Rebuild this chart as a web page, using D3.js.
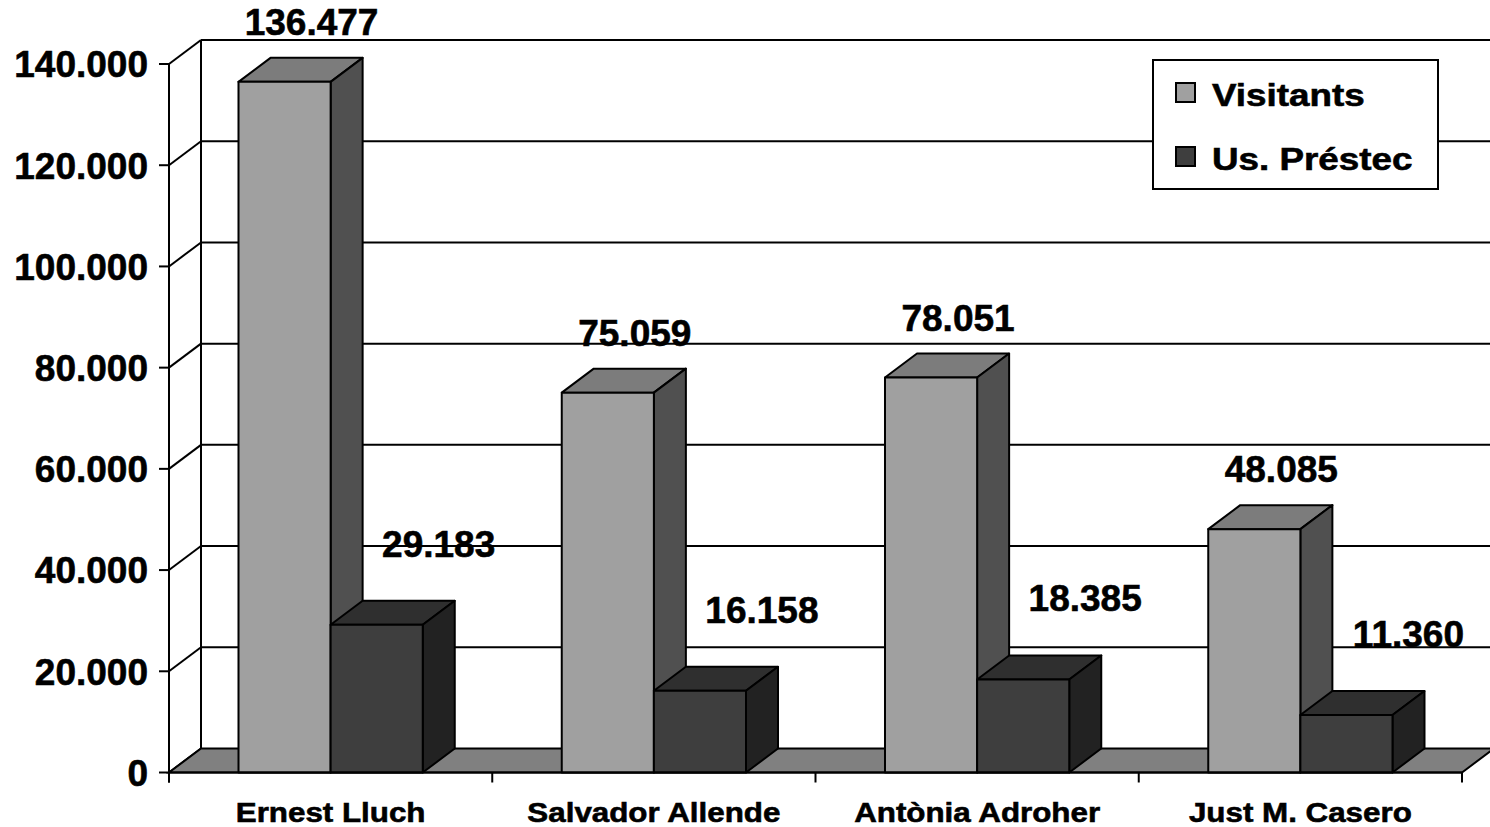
<!DOCTYPE html>
<html><head><meta charset="utf-8">
<script src="https://cdn.jsdelivr.net/npm/d3@7"></script>
<style>
html,body{margin:0;padding:0;background:#fff;}
svg{display:block;}
text{font-family:"Liberation Sans",Arial,sans-serif;font-weight:bold;fill:#000;stroke:#000;stroke-width:0.6px;}
</style></head>
<body>
<svg id="c" width="1490" height="827"></svg>
<script>
const categories = ["Ernest Lluch","Salvador Allende","Antònia Adroher","Just M. Casero"];
const seriesNames = ["Visitants","Us. Préstec"];
const visitants = [136477, 75059, 78051, 48085];
const prestec = [29183, 16158, 18385, 11360];
const yTicks = [0,20000,40000,60000,80000,100000,120000,140000];

const svg = d3.select("#c");
const fmt = d3.formatLocale({decimal:",",thousands:".",grouping:[3],currency:["","€"]}).format(",");
const DX = 32, DY = -24;
const y = d3.scaleLinear().domain([0,140000]).range([772.5,64]);
const x = d3.scaleBand().domain(categories).range([169,1462]).padding(0);
const bw = x.bandwidth();
const xs = d3.scaleBand().domain(seriesNames).range([bw*0.215, bw*0.785]).padding(0);
const faces = {
  "Visitants": {front:"#a0a0a0", top:"#7c7c7c", side:"#505050"},
  "Us. Préstec": {front:"#3e3e3e", top:"#2f2f2f", side:"#222222"}
};
const series = [{name:"Visitants", values:visitants},{name:"Us. Préstec", values:prestec}];

const g = svg.append("g");
const x0 = 169, x1 = 1462, y0 = y(0);

// back wall gridlines
g.append("g").selectAll("line").data(yTicks.slice(1)).join("line")
  .attr("x1", x0+DX).attr("x2", x1+DX+10)
  .attr("y1", d=>y(d)+DY).attr("y2", d=>y(d)+DY)
  .attr("stroke","#000").attr("stroke-width",2);
// side wall diagonals
g.append("g").selectAll("line").data(yTicks).join("line")
  .attr("x1", x0).attr("y1", d=>y(d))
  .attr("x2", x0+DX).attr("y2", d=>y(d)+DY)
  .attr("stroke","#000").attr("stroke-width",2);
// back wall left edge
g.append("line").attr("x1",x0+DX).attr("x2",x0+DX)
  .attr("y1",y(140000)+DY).attr("y2",y0+DY).attr("stroke","#000").attr("stroke-width",2);

// floor
g.append("polygon")
  .attr("points",[[x0,y0],[x1,y0],[x1+DX,y0+DY],[x0+DX,y0+DY]].map(p=>p.join(",")).join(" "))
  .attr("fill","#808080").attr("stroke","#000").attr("stroke-width",2);

// bars
const bars = g.append("g");
categories.forEach((c,i)=>{
  series.forEach(s=>{
    const v = s.values[i];
    const bx = x(c)+xs(s.name), w = xs.bandwidth();
    const top = y(v);
    const col = faces[s.name];
    const bg = bars.append("g").attr("stroke","#000").attr("stroke-width",2).attr("stroke-linejoin","round");
    bg.append("polygon").attr("points",[[bx,top],[bx+w,top],[bx+w+DX,top+DY],[bx+DX,top+DY]].map(p=>p.join(",")).join(" "))
      .attr("fill",col.top);
    bg.append("polygon").attr("points",[[bx+w,top],[bx+w+DX,top+DY],[bx+w+DX,y0+DY],[bx+w,y0]].map(p=>p.join(",")).join(" "))
      .attr("fill",col.side);
    bg.append("rect").attr("x",bx).attr("y",top).attr("width",w).attr("height",y0-top).attr("fill",col.front);
  });
});

// front axes
const ax = g.append("g").attr("stroke","#000").attr("stroke-width",2);
ax.append("line").attr("x1",x0).attr("x2",x0).attr("y1",y(140000)).attr("y2",y0+10);
ax.append("line").attr("x1",x0).attr("x2",x1).attr("y1",y0).attr("y2",y0);
ax.selectAll(".yt").data(yTicks).join("line").attr("class","yt")
  .attr("x1",x0-10).attr("x2",x0).attr("y1",d=>y(d)).attr("y2",d=>y(d));
const xTickPos = categories.map(c=>x(c)).concat([x1]);
ax.selectAll(".xt").data(xTickPos).join("line").attr("class","xt")
  .attr("x1",d=>d).attr("x2",d=>d).attr("y1",y0).attr("y2",y0+10);

// y labels
g.append("g").selectAll("text").data(yTicks).join("text")
  .attr("x",148).attr("y",d=>y(d)).attr("dy","0.36em")
  .attr("text-anchor","end").style("font-size","37px").text(d=>fmt(d));

// category labels
g.append("g").selectAll("text").data(categories).join("text")
  .attr("transform",d=>`translate(${x(d)+bw/2},822) scale(1.1,1)`)
  .attr("text-anchor","middle").style("font-size","28.5px").text(d=>d);

// value labels
const labelShift = {"Visitants":{dx:27, dy:47}, "Us. Préstec":{dx:62, dy:68}};
series.forEach(s=>{
  g.append("g").selectAll("text").data(s.values).join("text")
    .attr("x",(d,i)=>x(categories[i])+xs(s.name)+xs.bandwidth()/2+labelShift[s.name].dx)
    .attr("y",d=>y(d)-labelShift[s.name].dy)
    .attr("text-anchor","middle").style("font-size","37px").text(d=>fmt(d));
});

// legend
const lg = svg.append("g");
lg.append("rect").attr("x",1153).attr("y",60).attr("width",285).attr("height",129)
  .attr("fill","#fff").attr("stroke","#000").attr("stroke-width",2);
series.forEach((s,i)=>{
  const ly = 93 + i*64;
  lg.append("rect").attr("x",1176).attr("y",ly-10).attr("width",19).attr("height",19)
    .attr("fill",faces[s.name].front).attr("stroke","#000").attr("stroke-width",2);
  lg.append("text").attr("transform",`translate(1212,${ly+1}) scale(1.15,1)`).attr("dy","0.36em")
    .style("font-size","32px").text(s.name);
});
</script>
</body></html>
